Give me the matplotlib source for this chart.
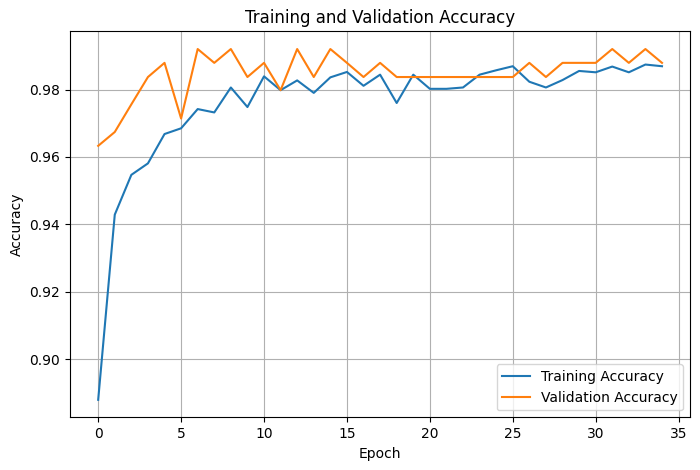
import matplotlib
matplotlib.use("Agg")
import matplotlib.pyplot as plt
import numpy as np

epochs = np.arange(35)
train_acc = [0.888, 0.9429, 0.9547, 0.9581, 0.9668, 0.9685, 0.9742, 0.9732,
             0.9806, 0.9748, 0.9839, 0.9798, 0.9827, 0.9790, 0.9836, 0.9852,
             0.9811, 0.9844, 0.9760, 0.9844, 0.9802, 0.9802, 0.9806, 0.9844,
             0.9857, 0.9869, 0.9823, 0.9806, 0.9828, 0.9855, 0.9851, 0.9868,
             0.9851, 0.9874, 0.9869]
val_acc = [0.9633, 0.9674, 0.9756, 0.9837, 0.9879, 0.9714, 0.9920, 0.9879,
           0.9920, 0.9837, 0.9879, 0.9798, 0.9920, 0.9837, 0.9920, 0.9879,
           0.9837, 0.9879, 0.9837, 0.9837, 0.9837, 0.9837, 0.9837, 0.9837,
           0.9837, 0.9837, 0.9879, 0.9837, 0.9879, 0.9879, 0.9879, 0.9920,
           0.9879, 0.9920, 0.9879]

fig = plt.figure(figsize=(7, 4.7), dpi=100)
ax = fig.add_axes([0.1, 0.112, 0.886, 0.821])
ax.plot(epochs, train_acc, label='Training Accuracy')
ax.plot(epochs, val_acc, label='Validation Accuracy')
ax.set_title('Training and Validation Accuracy')
ax.set_xlabel('Epoch')
ax.set_ylabel('Accuracy')
ax.legend(loc='lower right')
ax.grid(True)
fig.savefig('out.png', dpi=100)
